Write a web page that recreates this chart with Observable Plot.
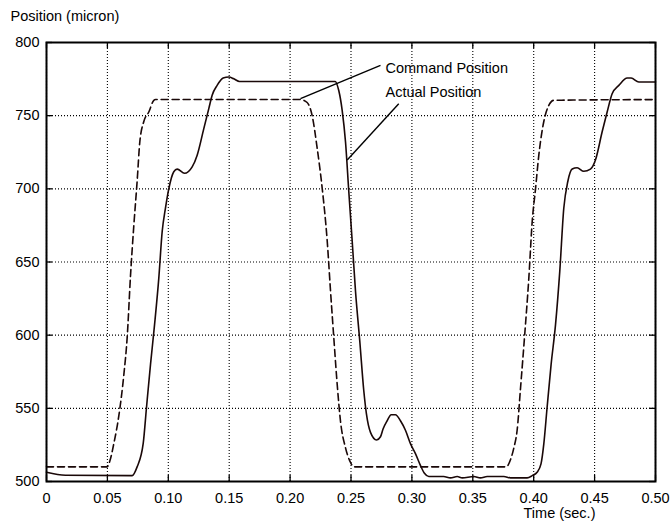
<!DOCTYPE html>
<html>
<head>
<meta charset="utf-8">
<script src="https://cdn.jsdelivr.net/npm/d3@7"></script>
<script src="https://cdn.jsdelivr.net/npm/@observablehq/plot@0.6"></script>
<style>
  html, body { margin: 0; padding: 0; background: #fff; }
</style>
</head>
<body>
<div id="chart"></div>
<script>
// Tick values and labels
const xTicks = [0, 0.05, 0.10, 0.15, 0.20, 0.25, 0.30, 0.35, 0.40, 0.45, 0.50];
const xTickLabels = ["0", "0.05", "0.10", "0.15", "0.20", "0.25", "0.30", "0.35", "0.40", "0.45", "0.50"];
const yTicks = [500, 550, 600, 650, 700, 750, 800];

// Command position (dashed)
const commandTime = [0, 0.0498, 0.052, 0.0553, 0.0594, 0.0635, 0.0662, 0.069, 0.0717, 0.0744, 0.0766, 0.0799, 0.084, 0.0881, 0.0895,
  0.2085, 0.214, 0.2181, 0.2222, 0.2264, 0.2305, 0.2332, 0.2359, 0.2387, 0.2414, 0.2455, 0.2496, 0.2523,
  0.3774, 0.381, 0.3837, 0.3864, 0.3892, 0.3924, 0.396, 0.3988, 0.4015, 0.4042, 0.4083, 0.4124, 0.4165, 0.5];
const commandValue = [510, 510, 514, 526, 545, 573, 598, 641, 675, 705, 732, 746, 752.5, 760.5, 761,
  761, 759, 750, 728, 700, 664, 630, 598, 566, 541, 523, 513, 510,
  510, 515, 523, 535, 564, 598, 639, 678, 700, 723, 746, 757, 760.5, 761];

// Actual position (solid)
const actualTime = [0, 0.0156, 0.0703, 0.0744, 0.0794, 0.0821, 0.0854, 0.0887, 0.0922, 0.095, 0.0977, 0.1004, 0.1045, 0.1073, 0.1133, 0.1196, 0.1237, 0.1291, 0.1333, 0.136, 0.1401, 0.145, 0.1497, 0.1538, 0.1585,
  0.237, 0.24, 0.2427, 0.2455, 0.2482, 0.251, 0.2537, 0.2572, 0.2605, 0.2627, 0.266, 0.271, 0.2742, 0.2764, 0.2797, 0.283, 0.2865, 0.2906, 0.2947, 0.2989, 0.303, 0.307, 0.3103, 0.3139,
  0.326, 0.3317, 0.3372, 0.3413, 0.3508, 0.3563, 0.3618, 0.3755, 0.381, 0.3946, 0.3988, 0.4028, 0.406, 0.4083, 0.411, 0.4143, 0.4179, 0.4214, 0.4247, 0.428, 0.4316, 0.4357, 0.4411, 0.4466, 0.4507, 0.4562, 0.4603, 0.4644, 0.4699, 0.4768, 0.48, 0.4863, 0.5];
const actualValue = [506.3, 504.3, 504, 510, 526, 550.6, 580, 607, 639, 671, 687, 700, 711.7, 713.5, 710.6, 715, 723, 741, 755, 764, 770.7, 775.7, 776.4, 775.2, 773.4,
  773.4, 767, 754, 732, 698, 664, 630, 596, 562, 546, 533.6, 528.4, 530.6, 536, 541.5, 545.6, 545.6, 541.5, 535, 525.7, 518.9, 511, 505.6, 503.4,
  503.4, 502.5, 503.4, 502.5, 503.4, 502.5, 503.4, 503.4, 502.5, 502.5, 504, 506.3, 512, 525.7, 550.6, 580, 607, 643.6, 686.7, 705, 713.5, 714.4, 712, 713.5, 719.7, 739, 752.5, 765, 770.7, 775.7, 775.7, 773, 773];

// Annotations
const annotationLabels = ["Command Position", "Actual Position"];
const annotationTime = [0.2783, 0.2783];
const annotationValue = [782, 765.7];
const leaderFromTime = [0.2742, 0.2892];
const leaderFromValue = [784.3, 758.2];
const leaderToTime = [0.2085, 0.2469];
const leaderToValue = [761.6, 719.7];

const commandData = commandTime.map((t, i) => ({t, v: commandValue[i]}));
const actualData = actualTime.map((t, i) => ({t, v: actualValue[i]}));
const annotations = annotationLabels.map((label, i) => ({label, t: annotationTime[i], v: annotationValue[i]}));
const leaders = leaderFromTime.map((t1, i) => ({t1, v1: leaderFromValue[i], t2: leaderToTime[i], v2: leaderToValue[i]}));

const W = 672, H = 524;
const mTop = 42, mBottom = 43, mLeft = 46, mRight = 17;
const frameW = W - mLeft - mRight, frameH = H - mTop - mBottom;
const ink = "#1a0808";

const chart = Plot.plot({
  width: W,
  height: H,
  marginTop: mTop,
  marginBottom: mBottom,
  marginLeft: mLeft,
  marginRight: mRight,
  style: {fontFamily: "'Liberation Sans', Arial, Helvetica, sans-serif", fontSize: "14.5px", background: "#fff", color: "#000"},
  x: {domain: [0, 0.5], ticks: xTicks, tickFormat: d => xTickLabels[xTicks.findIndex(v => Math.abs(v - d) < 1e-9)], tickSize: 0, tickPadding: 11, label: null},
  y: {domain: [500, 800], ticks: yTicks, tickFormat: d => String(d), tickSize: 0, tickPadding: 7, label: null},
  marks: [
    // dotted grid
    Plot.ruleX(xTicks, {x: d => d, stroke: "#000", strokeWidth: 1.1, strokeDasharray: "1,2"}),
    Plot.ruleY(yTicks, {y: d => d, stroke: "#000", strokeWidth: 1.1, strokeDasharray: "1,2"}),
    // inward tick marks
    Plot.ruleX(xTicks, {x: d => d, insetTop: frameH - 6, stroke: "#000", strokeWidth: 1.3}),
    Plot.ruleX(xTicks, {x: d => d, insetBottom: frameH - 6, stroke: "#000", strokeWidth: 1.3}),
    Plot.ruleY(yTicks, {y: d => d, insetRight: frameW - 6, stroke: "#000", strokeWidth: 1.3}),
    Plot.ruleY(yTicks, {y: d => d, insetLeft: frameW - 6, stroke: "#000", strokeWidth: 1.3}),
    // curves
    Plot.line(commandData, {x: "t", y: "v", stroke: ink, strokeWidth: 1.6, strokeDasharray: "7,4", curve: "monotone-x"}),
    Plot.line(actualData, {x: "t", y: "v", stroke: ink, strokeWidth: 1.6, curve: "monotone-x"}),
    // annotations
    Plot.link(leaders, {x1: "t1", y1: "v1", x2: "t2", y2: "v2", stroke: "#000", strokeWidth: 1.4}),
    Plot.text(annotations, {x: "t", y: "v", text: "label", textAnchor: "start", lineAnchor: "middle", fill: "#000", fontSize: 14.5}),
    // axis titles
    Plot.text(["Position (micron)"], {frameAnchor: "top-left", dx: -36, dy: -26, textAnchor: "start", lineAnchor: "middle", fill: "#000", fontSize: 14.5}),
    Plot.text(["Time (sec.)"], {frameAnchor: "bottom-right", dx: -96, dy: 32, textAnchor: "middle", lineAnchor: "middle", fill: "#000", fontSize: 14.5}),
    Plot.frame({stroke: "#000", strokeWidth: 2})
  ]
});
document.getElementById("chart").appendChild(chart);
</script>
</body>
</html>
